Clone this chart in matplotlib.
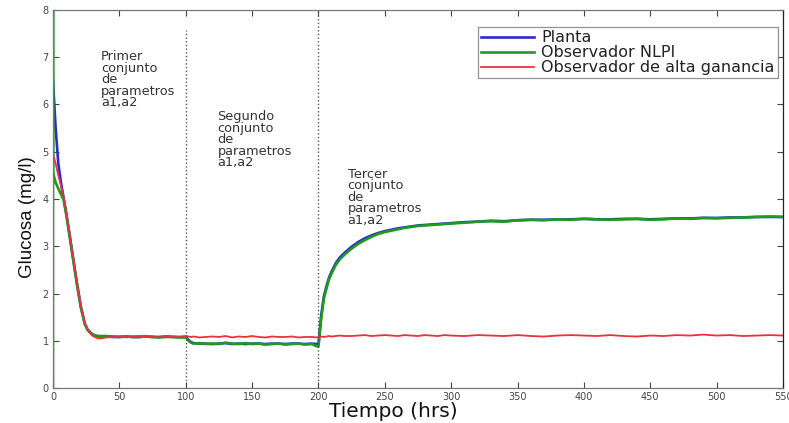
import matplotlib
matplotlib.use("Agg")
import matplotlib.pyplot as plt

plt.rcParams['font.family'] = ['DejaVu Sans']

# ---- data ----
t_a = [0, 2, 4, 6, 8, 10, 12, 15, 18, 21, 24, 26, 28, 30, 33, 36]
blue_a = [6.5, 5.5, 4.75, 4.35, 4.02, 3.7, 3.34, 2.78, 2.22, 1.72, 1.36, 1.24, 1.18, 1.13, 1.1, 1.09]
green_a = [4.55, 4.35, 4.22, 4.1, 3.98, 3.66, 3.3, 2.75, 2.2, 1.7, 1.35, 1.23, 1.17, 1.13, 1.1, 1.1]
red_a = [4.95, 4.75, 4.5, 4.28, 4.04, 3.72, 3.36, 2.8, 2.24, 1.74, 1.37, 1.24, 1.16, 1.1, 1.06, 1.05]

t_b = [40, 45, 50, 55, 60, 65, 70, 75, 80, 85, 90, 95, 100]
blue_b = [1.09, 1.08, 1.08, 1.09, 1.08, 1.08, 1.09, 1.08, 1.08, 1.09, 1.08, 1.08, 1.08]
green_b = [1.1, 1.09, 1.08, 1.09, 1.08, 1.08, 1.09, 1.08, 1.07, 1.08, 1.08, 1.07, 1.07]
red_b = [1.07, 1.08, 1.09, 1.07, 1.09, 1.1, 1.08, 1.09, 1.07, 1.1, 1.09, 1.08, 1.1]

t_c = [102, 104, 106, 110, 115, 120, 125, 130, 135, 140, 145, 150, 155, 160, 165, 170, 175, 180, 185, 190, 195, 199]
blue_c = [1.02, 0.97, 0.95, 0.94, 0.94, 0.93, 0.94, 0.95, 0.93, 0.94, 0.93, 0.94, 0.94, 0.93, 0.94, 0.94, 0.93, 0.94, 0.94, 0.93, 0.94, 0.93]
green_c = [1.0, 0.96, 0.94, 0.95, 0.93, 0.94, 0.93, 0.96, 0.94, 0.93, 0.95, 0.93, 0.94, 0.92, 0.93, 0.94, 0.92, 0.93, 0.94, 0.92, 0.93, 0.88]
red_c = [1.09, 1.08, 1.09, 1.07, 1.08, 1.09, 1.08, 1.1, 1.07, 1.09, 1.08, 1.1, 1.08, 1.07, 1.09, 1.08, 1.08, 1.09, 1.07, 1.08, 1.08, 1.07]

t_d = [200, 201, 202, 204, 206, 208, 210, 213, 216, 220, 225, 230, 235, 240, 245, 250, 255, 260, 265, 270, 275, 280, 285, 290, 295, 300]
blue_d = [0.92, 1.22, 1.52, 1.93, 2.15, 2.34, 2.47, 2.64, 2.76, 2.87, 2.99, 3.09, 3.17, 3.23, 3.28, 3.32, 3.35, 3.38, 3.4, 3.42, 3.44, 3.45, 3.46, 3.47, 3.48, 3.49]
green_d = [0.88, 1.15, 1.45, 1.88, 2.1, 2.3, 2.43, 2.6, 2.72, 2.83, 2.95, 3.05, 3.13, 3.2, 3.26, 3.3, 3.33, 3.36, 3.39, 3.41, 3.43, 3.44, 3.45, 3.46, 3.47, 3.48]
red_d = [1.07, 1.08, 1.09, 1.08, 1.09, 1.1, 1.09, 1.1, 1.11, 1.1, 1.1, 1.11, 1.12, 1.1, 1.11, 1.12, 1.11, 1.1, 1.12, 1.11, 1.1, 1.12, 1.11, 1.1, 1.12, 1.11]

t_e = [310, 320, 330, 340, 350, 360, 370, 380, 390, 400, 410, 420, 430, 440, 450, 460, 470, 480, 490, 500, 510, 520, 530, 540, 550]
blue_e = [3.51, 3.52, 3.54, 3.53, 3.55, 3.56, 3.56, 3.57, 3.57, 3.58, 3.57, 3.57, 3.58, 3.58, 3.57, 3.58, 3.59, 3.59, 3.6, 3.6, 3.61, 3.61, 3.62, 3.62, 3.62]
green_e = [3.5, 3.52, 3.53, 3.52, 3.55, 3.56, 3.55, 3.57, 3.56, 3.58, 3.57, 3.56, 3.57, 3.58, 3.56, 3.57, 3.59, 3.58, 3.6, 3.59, 3.6, 3.61, 3.62, 3.63, 3.62]
red_e = [1.1, 1.12, 1.11, 1.1, 1.12, 1.1, 1.09, 1.11, 1.12, 1.11, 1.1, 1.12, 1.1, 1.09, 1.11, 1.1, 1.12, 1.11, 1.13, 1.11, 1.12, 1.1, 1.11, 1.12, 1.11]

# initial vertical excursion of the NLPI observer at t = 0
green_start_t = [0, 0]
green_start_v = [0, 8.5]

labels = ["Planta", "Observador NLPI", "Observador de alta ganancia"]
stage_times = [100, 200]
stage_tops = [7.58, 8.0]
annotations = [
    (36, 7.15, "Primer\nconjunto\nde\nparametros\na1,a2"),
    (124, 5.88, "Segundo\nconjunto\nde\nparametros\na1,a2"),
    (222, 4.66, "Tercer\nconjunto\nde\nparametros\na1,a2"),
]

t = t_a + t_b + t_c + t_d + t_e
blue = blue_a + blue_b + blue_c + blue_d + blue_e
green = green_a + green_b + green_c + green_d + green_e
red = red_a + red_b + red_c + red_d + red_e

fig = plt.figure(figsize=(7.89, 4.23), dpi=100)
ax = fig.add_axes([53/789, 35/423, 730/789, 378/423])

c_blue = '#2b2bd6'
c_green = '#1e9a1e'
c_red = '#e8333a'

ax.plot(t, blue, color=c_blue, lw=1.9, label=labels[0])
ax.plot(green_start_t + t, green_start_v + green, color=c_green, lw=1.9, label=labels[1])
ax.plot(t, red, color=c_red, lw=1.3, label=labels[2])

for st, top in zip(stage_times, stage_tops):
    ax.plot([st, st], [0, top], color='#555555', lw=1.0, ls=':')

for x, y, s in annotations:
    ax.text(x, y, s, fontsize=9.3, color='#333333', va='top', ha='left', linespacing=0.85)

ax.set_xlim(0, 550)
ax.set_ylim(0, 8)
ax.set_xticks(range(0, 551, 50))
ax.set_yticks(range(0, 9))
ax.tick_params(direction='in', top=True, right=True, length=4, width=0.8,
               labelsize=7, colors='#444444', pad=3)
for sp in ax.spines.values():
    sp.set_color('#777777')
    sp.set_linewidth(0.9)
ax.spines['right'].set_color('#222222')

ax.set_xlabel("Tiempo (hrs)", fontsize=14.5, color='#111111')
ax.xaxis.set_label_coords((393 - 53) / 730, -0.036)
ax.set_ylabel("Glucosa (mg/l)", fontsize=13.5, color='#111111',
              family=['Liberation Sans', 'DejaVu Sans'])
ax.yaxis.set_label_coords(-0.023, (388 - 217) / 378)

leg = ax.legend(loc='upper right', bbox_to_anchor=(0.993, 0.955), fontsize=11.5,
                frameon=True, fancybox=False, borderpad=0.2, labelspacing=0.0,
                handlelength=3.3, handletextpad=0.45, borderaxespad=0)
leg.get_frame().set_edgecolor('#777777')
leg.get_frame().set_linewidth(0.9)
for txt in leg.get_texts():
    txt.set_color('#222222')

fig.savefig("out.png", dpi=100)
